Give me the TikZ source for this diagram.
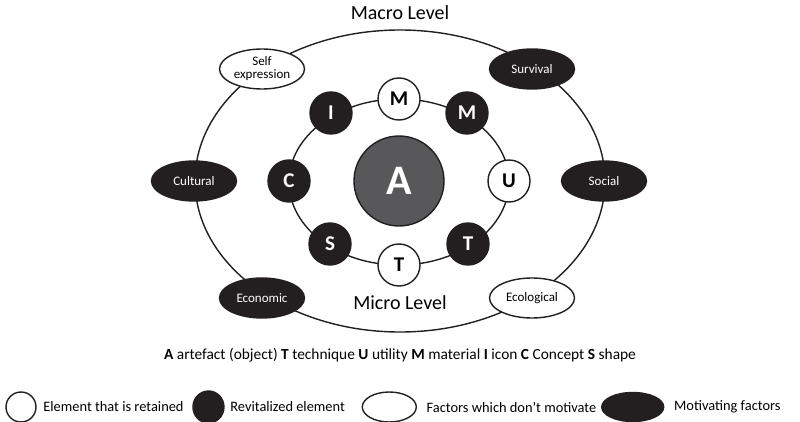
\documentclass[tikz,border=0pt]{standalone}
\usepackage{fontspec}
\setmainfont{Carlito}
\usetikzlibrary{positioning, shapes.geometric}
\definecolor{inkblk}{HTML}{231F20}
\definecolor{artgray}{HTML}{58585A}
\tikzset{every node/.style={font=\rmfamily}}

\begin{document}
\begin{tikzpicture}[x=1pt, y=-1pt, line width=1.4pt,
    keep/.style={circle, draw=inkblk, fill=white, minimum size=42pt, inner sep=0pt, font=\fontsize{21}{22}\selectfont\bfseries},
    revit/.style={circle, draw=inkblk, fill=inkblk, text=white, minimum size=42pt, inner sep=0pt, font=\fontsize{21}{22}\selectfont\bfseries},
    nomot/.style={ellipse, draw=inkblk, fill=white, minimum width=85pt, minimum height=40pt, inner sep=0pt, align=center, font=\fontsize{13}{13}\selectfont},
    motiv/.style={ellipse, draw=inkblk, fill=inkblk, text=white, minimum width=85pt, minimum height=40pt, inner sep=0pt, font=\fontsize{13}{14}\selectfont},
    lvl/.style={font=\fontsize{20}{22}\selectfont},
    lgd/.style={font=\fontsize{14.4}{16}\selectfont, inner sep=0pt}]
  \useasboundingbox (0,0) rectangle (800,422);

  % the two levels
  \draw[inkblk] (400,181) ellipse [x radius=205, y radius=151];
  \draw[inkblk] (399,182) ellipse [x radius=110, y radius=83];

  \node[lvl] (macro) at (400,13) {Macro Level};
  \node[lvl] (micro) at (400,303) {Micro Level};

  % artefact
  \node[circle, draw=inkblk, fill=artgray, text=white, minimum size=90pt, inner sep=0pt,
        font=\fontsize{42}{44}\selectfont\bfseries] (A) at (399,181) {A};

  % micro elements
  \node[keep]  (Mt) at (399,99)  {M};
  \node[revit] (I)  at (331,113) {I};
  \node[revit] (Mr) at (467,113) {M};
  \node[revit] (C)  at (289,181) {C};
  \node[keep]  (U)  at (509,181) {U};
  \node[revit] (S)  at (330,244) {S};
  \node[revit] (Tr) at (468,244) {T};
  \node[keep]  (Tb) at (399,265) {T};

  % macro factors
  \node[nomot] (self) at (262,69)  {Self\\expression};
  \node[motiv] (surv) at (532,69)  {Survival};
  \node[motiv] (cult) at (194,181) {Cultural};
  \node[motiv] (soc)  at (604,181) {Social};
  \node[motiv] (eco)  at (262,298) {Economic};
  \node[nomot] (ecol) at (532,298) {Ecological};

  % key
  \node[font=\fontsize{15.4}{17}\selectfont] (key) at (400,355)
    {\textbf{A} artefact (object) \textbf{T} technique \textbf{U} utility \textbf{M} material \textbf{I} icon \textbf{C} Concept \textbf{S} shape};

  \node[circle, draw=inkblk, fill=white, minimum size=30pt, inner sep=0pt] (lk) at (21,407) {};
  \node[lgd, right=6pt of lk] (lkt) {Element that is retained};
  \node[ellipse, draw=inkblk, fill=inkblk, minimum width=31pt, minimum height=32pt, inner sep=0pt, right=8pt of lkt] (lr) {};
  \node[lgd, right=5pt of lr] (lrt) {Revitalized element};
  \node[ellipse, draw=inkblk, fill=white, minimum width=54pt, minimum height=30pt, inner sep=0pt, right=16pt of lrt] (ln) {};
  \node[lgd, right=9pt of ln] (lnt) {Factors which don’t motivate};
  \node[ellipse, draw=inkblk, fill=inkblk, minimum width=62pt, minimum height=29pt, inner sep=0pt, right=4pt of lnt] (lm) {};
  \node[lgd, right=9pt of lm] (lmt) {Motivating factors};
\end{tikzpicture}
\end{document}
